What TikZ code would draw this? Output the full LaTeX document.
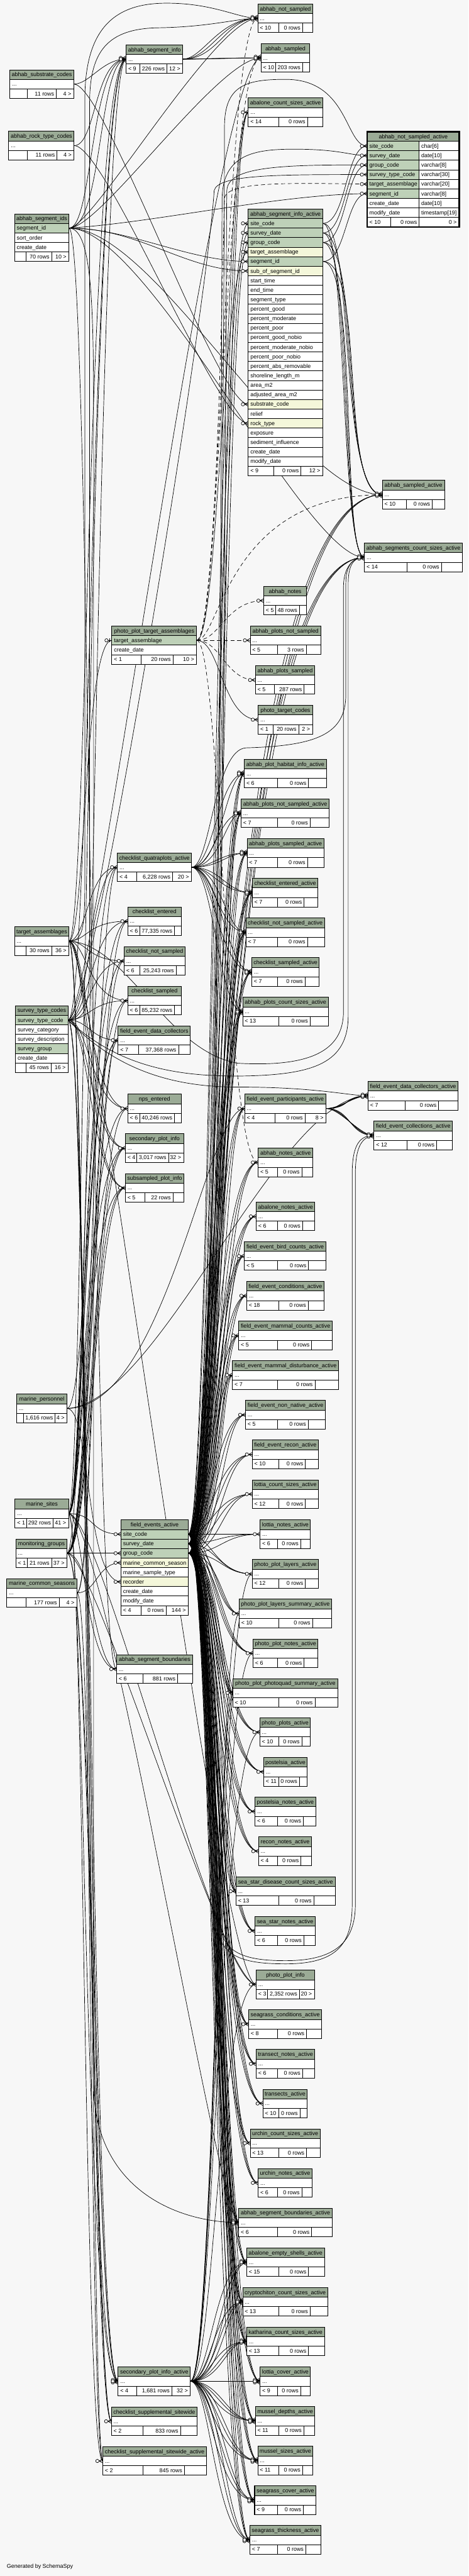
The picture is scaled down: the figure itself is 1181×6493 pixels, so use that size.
\documentclass[tikz,border=0pt]{standalone}
\usepackage{fontspec}
\setmainfont{Liberation Sans}
\usetikzlibrary{calc}
\pgfdeclarelayer{edgel}
\pgfsetlayers{edgel,main}
\definecolor{bg}{HTML}{F7F7F7}
\definecolor{hdr}{HTML}{9BAB96}
\definecolor{pk}{HTML}{BED1B8}
\definecolor{fkc}{HTML}{F4F7DA}
\newcommand\fsz{\fontsize{7.1}{8.5}\selectfont}
\def\getxyz#1,#2,#3\relax{\def\tx{#1}\def\tX{#2}\def\ty{#3}}
\def\getdd#1,#2\relax{\def\da{#1}\def\db{#2}}
\tikzset{
  fk/.style={draw=black, line width=0.55pt},
  imp/.style={fk, dash pattern=on 5pt off 3.5pt},
  cell/.style={draw=black, line width=0.6pt},
  tt/.style={anchor=base, inner sep=0pt, font=\fsz},
  tl/.style={anchor=base west, inner sep=0pt, font=\fsz},
  tr/.style={anchor=base east, inner sep=0pt, font=\fsz},
}
% simple table: name, {x1,x2,y}, title, {d1,d2}, left, mid, right
\newcommand\stbl[7]{%
  \getxyz#2\relax\getdd#4\relax
  \pgfmathsetmacro\tbw{(\tX-\tx)*0.5}%
  \node[name=#1, anchor=north west, inner sep=0pt, outer sep=0pt, minimum width=\tbw pt, minimum height=36pt, fill=white] at (\tx,\ty) {};
  \fill[hdr] (\tx,\ty) rectangle (\tX,\ty+24);
  \node[tt] at ({(\tx+\tX)/2},\ty+17) {#3};
  \node[tl] at (\tx+5,\ty+41) {...};
  \draw[cell] (\tx,\ty+24) -- (\tX,\ty+24) (\tx,\ty+48) -- (\tX,\ty+48) (\da,\ty+48) -- (\da,\ty+72) (\db,\ty+48) -- (\db,\ty+72);
  \node[tl] at (\tx+5,\ty+65) {#5};
  \node[tr] at (\db-5,\ty+65) {#6};
  \node[tr] at (\tX-6,\ty+65) {#7};
  \draw[cell, line width=0.8pt] (\tx,\ty) rectangle (\tX,\ty+72);
}
% long table: name, {x1,x2,y}, title, rows, {d1,d2}, left, mid, right
\newcommand\ltbl[8]{%
  \getxyz#2\relax\getdd#5\relax
  \foreach \rt/\rc [count=\ri] in {#4} {\xdef\nr{\ri}}%
  \pgfmathsetmacro\tbw{(\tX-\tx)*0.5}%
  \pgfmathsetmacro\tbh{(\nr+2)*12}%
  \pgfmathsetmacro\yf{\ty+24*(\nr+1)}%
  \pgfmathsetmacro\yb{\ty+24*(\nr+2)}%
  \node[name=#1, anchor=north west, inner sep=0pt, outer sep=0pt, minimum width=\tbw pt, minimum height=\tbh pt, fill=white] at (\tx,\ty) {};
  \fill[hdr] (\tx,\ty) rectangle (\tX,\ty+24);
  \node[tt] at ({(\tx+\tX)/2},\ty+17) {#3};
  \foreach \rt/\rc [count=\ri] in {#4} {
    \fill[\rc] (\tx,\ty+24*\ri) rectangle (\tX,\ty+24*\ri+24);
    \draw[cell] (\tx,\ty+24*\ri) -- (\tX,\ty+24*\ri);
    \node[tl] at (\tx+5,\ty+24*\ri+17) {\rt};
  }
  \draw[cell] (\tx,\yf) -- (\tX,\yf) (\da,\yf) -- (\da,\yb) (\db,\yf) -- (\db,\yb);
  \node[tl] at (\tx+5,\yf+17) {#6};
  \node[tr] at (\db-5,\yf+17) {#7};
  \node[tr] at (\tX-6,\yf+17) {#8};
  \draw[cell, line width=0.8pt] (\tx,\ty) rectangle (\tX,\yb);
}
\newcommand\mk[1]{%
  \draw[fk] ($(#1)+(-9,0)$) -- ($(#1)+(0,-5)$) ($(#1)+(-9,0)$) -- (#1) ($(#1)+(-9,0)$) -- ($(#1)+(0,5)$);
  \draw[fk, fill=bg] ($(#1)+(-13.5,0)$) circle[radius=2.1pt];
}
\newcommand\mkm[1]{%
  \coordinate (mtmpa) at ($(#1)+(0,-3)$); \mk{mtmpa}
  \coordinate (mtmpb) at ($(#1)+(0,3)$); \mk{mtmpb}
  \mk{#1}
}
\newcommand\mkb[1]{%
  \draw[fk] ($(#1)+(-9,0)$) -- (#1);
  \draw[fk, line width=0.9pt] ($(#1)+(-5,-5)$) -- ($(#1)+(-5,5)$);
  \draw[fk, fill=bg] ($(#1)+(-13.5,0)$) circle[radius=2.1pt];
}
\begin{document}
\begin{tikzpicture}[x=0.5pt,y=-0.5pt]
\begin{pgfonlayer}{edgel}
\fill[bg] (0,0) rectangle (1181,6493);
\end{pgfonlayer}
\useasboundingbox (0,0) rectangle (1181,6493);

% ---------- left column
\stbl{subc}{25,186,176}{abhab\_substrate\_codes}{69,142}{}{11 rows}{4 >}
\stbl{rockc}{22,187,331}{abhab\_rock\_type\_codes}{69,144}{}{11 rows}{4 >}
\ltbl{segids}{37,174,539}{abhab\_segment\_ids}{segment\_id/pk, sort\_order/white, create\_date/white}{65,130}{}{70 rows}{10 >}
\stbl{tass}{37,174,2336}{target\_assemblages}{65,130}{}{30 rows}{36 >}
\ltbl{stc}{39,172,2535}{survey\_type\_codes}{survey\_type\_code/pk, survey\_category/white, survey\_description/white, survey\_group/pk, create\_date/white}{65,129}{}{45 rows}{16 >}
\stbl{mpers}{42,169,3514}{marine\_personnel}{59,139}{}{1,616 rows}{4 >}
\stbl{msites}{38,173,3779}{marine\_sites}{67,134}{< 1}{292 rows}{41 >}
\stbl{mgroups}{40,169,3879}{monitoring\_groups}{69,130}{< 1}{21 rows}{37 >}
\stbl{mcs}{17,194,3979}{marine\_common\_seasons}{65,149}{}{177 rows}{4 >}

% ---------- middle column
\stbl{seginfo}{318,461,113}{abhab\_segment\_info}{352,421}{< 9}{226 rows}{12 >}
\ltbl{ppta}{282,496,1578}{photo\_plot\_target\_assemblages}{target\_assemblage/pk, create\_date/white}{355,436}{< 1}{20 rows}{10 >}
\stbl{cqa}{296,483,2150}{checklist\_quatraplots\_active}{345,435}{< 4}{6,228 rows}{20 >}
\stbl{chent}{322,457,2286}{checklist\_entered}{352,440}{< 6}{77,335 rows}{}
\stbl{chns}{313,467,2386}{checklist\_not\_sampled}{352,444}{< 6}{25,243 rows}{}
\stbl{chs}{322,457,2486}{checklist\_sampled}{352,440}{< 6}{85,232 rows}{}
\stbl{fedc}{298,480,2586}{field\_event\_data\_collectors}{350,450}{< 7}{37,368 rows}{}
\stbl{npse}{322,457,2758}{nps\_entered}{352,440}{< 6}{40,246 rows}{}
\stbl{spi}{316,463,2858}{secondary\_plot\_info}{345,425}{< 4}{3,017 rows}{32 >}
\stbl{sspi}{316,464,2958}{subsampled\_plot\_info}{365,436}{< 5}{22 rows}{}
\ltbl{fea}{305,475,3831}{field\_events\_active}{site\_code/pk, survey\_date/pk, group\_code/pk, marine\_common\_season/fkc, marine\_sample\_type/white, recorder/fkc, create\_date/white, modify\_date/white}{356,419}{< 4}{0 rows}{144 >}
\stbl{asb}{294,486,4171}{abhab\_segment\_boundaries}{361,448}{< 6}{881 rows}{}
\stbl{spia}{298,480,5966}{secondary\_plot\_info\_active}{345,433}{< 4}{1,681 rows}{32 >}
\stbl{css}{281,497,6067}{checklist\_supplemental\_sitewide}{361,455}{< 2}{833 rows}{}
\stbl{cssa}{259,521,6167}{checklist\_supplemental\_sitewide\_active}{361,465}{< 2}{845 rows}{}

% ---------- right column
\stbl{ans0}{650,789,10}{abhab\_not\_sampled}{703,763}{< 10}{0 rows}{}
\stbl{as0}{658,781,110}{abhab\_sampled}{695,763}{< 10}{203 rows}{}
\stbl{acsa}{626,814,247}{abalone\_count\_sizes\_active}{703,775}{< 14}{0 rows}{}
\ltbl{sia}{626,814,527}{abhab\_segment\_info\_active}{site\_code/pk, survey\_date/pk, group\_code/pk, target\_assemblage/fkc, segment\_id/pk, sub\_of\_segment\_id/fkc, start\_time/white, end\_time/white, segment\_type/white, percent\_good/white, percent\_moderate/white, percent\_poor/white, percent\_good\_nobio/white, percent\_moderate\_nobio/white, percent\_poor\_nobio/white, percent\_abs\_removable/white, shoreline\_length\_m/white, area\_m2/white, adjusted\_area\_m2/white, substrate\_code/fkc, relief/white, rock\_type/fkc, exposure/white, sediment\_influence/white, create\_date/white, modify\_date/white}{690,759}{< 9}{0 rows}{12 >}
\stbl{asa}{964,1121,1211}{abhab\_sampled\_active}{1025,1090}{< 10}{0 rows}{}
\stbl{scsa}{919,1166,1369}{abhab\_segments\_count\_sizes\_active}{1026,1113}{< 14}{0 rows}{}
\stbl{anotes}{665,773,1478}{abhab\_notes}{695,755}{< 5}{48 rows}{}
\stbl{apns}{631,809,1578}{abhab\_plots\_not\_sampled}{699,772}{< 5}{3 rows}{}
\stbl{aps}{644,794,1678}{abhab\_plots\_sampled}{691,767}{< 5}{287 rows}{}
\stbl{ptc}{651,788,1778}{photo\_target\_codes}{689,753}{< 1}{20 rows}{2 >}
\stbl{aphia}{616,823,1914}{abhab\_plot\_habitat\_info\_active}{699,778}{< 6}{0 rows}{}
\stbl{apnsa}{608,830,2014}{abhab\_plots\_not\_sampled\_active}{699,782}{< 7}{0 rows}{}
\stbl{apsa}{623,817,2114}{abhab\_plots\_sampled\_active}{699,775}{< 7}{0 rows}{}
\stbl{chea}{636,802,2214}{checklist\_entered\_active}{699,767}{< 7}{0 rows}{}
\stbl{chnsa}{620,818,2314}{checklist\_not\_sampled\_active}{699,775}{< 7}{0 rows}{}
\stbl{chsa}{635,805,2414}{checklist\_sampled\_active}{699,769}{< 7}{0 rows}{}
\stbl{apcsa}{612,828,2514}{abhab\_plots\_count\_sizes\_active}{703,782}{< 13}{0 rows}{}
\stbl{fedca}{928,1155,2726}{field\_event\_data\_collectors\_active}{1022,1106}{< 7}{0 rows}{}
\stbl{fepa}{617,822,2758}{field\_event\_participants\_active}{694,769}{< 4}{0 rows}{8 >}
\stbl{feca}{943,1141,2826}{field\_event\_collections\_active}{1026,1101}{< 12}{0 rows}{}
\stbl{anota}{651,789,2894}{abhab\_notes\_active}{699,761}{< 5}{0 rows}{}
\stbl{abna}{646,794,3030}{abalone\_notes\_active}{699,763}{< 6}{0 rows}{}
\stbl{febc}{616,822,3130}{field\_event\_bird\_counts\_active}{699,778}{< 5}{0 rows}{}
\stbl{fecond}{622,817,3230}{field\_event\_conditions\_active}{703,777}{< 18}{0 rows}{}
\stbl{femc}{602,838,3330}{field\_event\_mammal\_counts\_active}{699,786}{< 5}{0 rows}{}
\stbl{femd}{586,854,3430}{field\_event\_mammal\_disturbance\_active}{699,794}{< 7}{0 rows}{}
\stbl{fenn}{619,821,3530}{field\_event\_non\_native\_active}{699,777}{< 5}{0 rows}{}
\stbl{fer}{636,803,3630}{field\_event\_recon\_active}{703,770}{< 10}{0 rows}{}
\stbl{lcs}{636,803,3730}{lottia\_count\_sizes\_active}{703,770}{< 12}{0 rows}{}
\stbl{lna}{656,783,3831}{lottia\_notes\_active}{699,758}{< 6}{0 rows}{}
\stbl{ppla}{636,803,3931}{photo\_plot\_layers\_active}{703,770}{< 12}{0 rows}{}
\stbl{pplsa}{603,836,4031}{photo\_plot\_layers\_summary\_active}{703,788}{< 10}{0 rows}{}
\stbl{ppna}{638,802,4131}{photo\_plot\_notes\_active}{699,767}{< 6}{0 rows}{}
\stbl{pppsa}{587,852,4231}{photo\_plot\_photoquad\_summary\_active}{703,794}{< 10}{0 rows}{}
\stbl{ppa}{655,783,4330}{photo\_plots\_active}{703,761}{< 10}{0 rows}{}
\stbl{posa}{665,774,4430}{postelsia\_active}{703,755}{< 11}{0 rows}{}
\stbl{posna}{643,796,4530}{postelsia\_notes\_active}{699,765}{< 6}{0 rows}{}
\stbl{rna}{652,786,4630}{recon\_notes\_active}{699,759}{< 4}{0 rows}{}
\stbl{ssdcsa}{595,845,4731}{sea\_star\_disease\_count\_sizes\_active}{703,791}{< 13}{0 rows}{}
\stbl{ssna}{643,795,4831}{sea\_star\_notes\_active}{699,766}{< 6}{0 rows}{}
\stbl{ppi}{646,793,4966}{photo\_plot\_info}{675,755}{< 3}{2,352 rows}{20 >}
\stbl{sgca}{627,811,5066}{seagrass\_conditions\_active}{699,773}{< 8}{0 rows}{}
\stbl{tna}{646,794,5166}{transect\_notes\_active}{699,763}{< 6}{0 rows}{}
\stbl{tra}{663,775,5266}{transects\_active}{703,756}{< 10}{0 rows}{}
\stbl{ucsa}{631,807,5366}{urchin\_count\_sizes\_active}{703,773}{< 13}{0 rows}{}
\stbl{una}{651,787,5466}{urchin\_notes\_active}{699,761}{< 6}{0 rows}{}
\stbl{asba}{602,838,5566}{abhab\_segment\_boundaries\_active}{699,786}{< 6}{0 rows}{}
\stbl{aesa}{622,818,5666}{abalone\_empty\_shells\_active}{703,778}{< 15}{0 rows}{}
\stbl{ccsa}{612,826,5766}{cryptochiton\_count\_sizes\_active}{703,782}{< 13}{0 rows}{}
\stbl{kcsa}{622,818,5866}{katharina\_count\_sizes\_active}{703,778}{< 13}{0 rows}{}
\stbl{lca}{656,783,5966}{lottia\_cover\_active}{699,758}{< 9}{0 rows}{}
\stbl{mda}{644,794,6066}{mussel\_depths\_active}{703,766}{< 11}{0 rows}{}
\stbl{msa}{650,789,6166}{mussel\_sizes\_active}{703,763}{< 11}{0 rows}{}
\stbl{sgcva}{642,797,6266}{seagrass\_cover\_active}{699,765}{< 9}{0 rows}{}
\stbl{sgta}{630,809,6366}{seagrass\_thickness\_active}{699,771}{< 7}{0 rows}{}

% ---------- focus table
\node[name=ansa, anchor=north west, inner sep=0pt, outer sep=0pt, minimum width=116pt, minimum height=120pt, fill=white] at (926,332) {};
\fill[hdr] (926,332) rectangle (1158,356);
\node[tt] at (1042,349) {abhab\_not\_sampled\_active};
\foreach \rt/\ru/\rc [count=\ri] in {site\_code/{char[6]}/pk, survey\_date/{date[10]}/pk, group\_code/{varchar[8]}/pk, survey\_type\_code/{varchar[30]}/pk, target\_assemblage/{varchar[20]}/pk, segment\_id/{varchar[8]}/pk, create\_date/{date[10]}/white, modify\_date/{timestamp[19]}/white} {
  \fill[\rc] (926,332+24*\ri) rectangle (1057,356+24*\ri);
  \draw[cell] (926,332+24*\ri) -- (1158,332+24*\ri);
  \node[tl] at (931,349+24*\ri) {\rt};
  \node[tl] at (1062,349+24*\ri) {\ru};
}
\draw[cell] (926,548) -- (1158,548) (1057,356) -- (1057,572) (985,548) -- (985,572);
\node[tl] at (931,565) {< 10};
\node[tr] at (1052,565) {0 rows};
\node[tr] at (1152,565) {0 >};
\draw[line width=2pt] (926,332) rectangle (1158,572);

\node[tl, name=gen] at (17,6473) {Generated by SchemaSpy};

% ---------- anchor coordinates
\coordinate (segids-o) at (174,575);
\coordinate (stc-o) at (172,2571);
\coordinate (ppta-o) at (496,1614);
\coordinate (ppta-i) at (282,1614);
\coordinate (fea-s) at (475,3867);
\coordinate (fea-d) at (475,3891);
\coordinate (fea-g) at (475,3915);
\coordinate (fea-is) at (305,3867);
\coordinate (fea-ig) at (305,3915);
\coordinate (fea-im) at (305,3939);
\coordinate (fea-ir) at (305,3987);
\coordinate (sia-is) at (626,563);
\coordinate (sia-id) at (626,587);
\coordinate (sia-ig) at (626,611);
\coordinate (sia-ita) at (626,635);
\coordinate (sia-iseg) at (626,659);
\coordinate (sia-isub) at (626,683);
\coordinate (sia-isc) at (626,1019);
\coordinate (sia-irk) at (626,1067);
\coordinate (sia-os) at (814,563);
\coordinate (sia-od) at (814,587);
\coordinate (sia-og) at (814,611);
\coordinate (sia-oseg) at (814,659);
\coordinate (ansa-s) at (926,368);
\coordinate (ansa-d) at (926,392);
\coordinate (ansa-g) at (926,416);
\coordinate (ansa-t) at (926,440);
\coordinate (ansa-ta) at (926,464);
\coordinate (ansa-seg) at (926,488);
\coordinate (chL1) at (212,0);
\coordinate (chL2) at (221,0);
\coordinate (chL3) at (230,0);
\coordinate (chL4) at (240,0);
\coordinate (chR1) at (542,0);
\coordinate (chR2) at (551,0);
\coordinate (chR3) at (560,0);
\coordinate (chR4) at (569,0);

% ---------- connectors
\begin{pgfonlayer}{edgel}
% into abhab_segment_info
\foreach \p/\a/\b in {subc.east/40/60, rockc.east/55/80, segids-o/60/90, segids-o/85/70, tass.east/45/95, stc-o/55/85, msites.east/40/100, mgroups.east/62/78}
  \draw[fk] (\p) .. controls +(\a,0) and +(-\b,0) .. (seginfo.west);
% left parents to middle tables
\foreach \q in {cqa,chent,chns,chs,npse,spi,sspi,spia,css,cssa}
  \draw[fk] (tass.east) .. controls +(45,0) and (\q.west -| chL2) .. (\q.west);
\foreach \q in {cqa,chent,chns,chs,fedc,npse,spi,sspi,spia,css,cssa}
  \draw[fk] (stc-o) .. controls +(52,0) and (\q.west -| chL3) .. (\q.west);
\foreach \q in {cqa,chent,chns,chs,fedc,npse,spi,sspi,asb,spia,cssa}
  \draw[fk] (msites.east) .. controls +(38,0) and (\q.west -| chL1) .. (\q.west);
\foreach \q in {cqa,chent,chns,chs,fedc,npse,spi,sspi,asb,spia,css}
  \draw[fk] (mgroups.east) .. controls +(62,0) and (\q.west -| chL4) .. (\q.west);
\foreach \q in {spi,sspi,spia}
  \draw[fk] (mcs.east) .. controls +(40,0) and (\q.west -| chL2) .. (\q.west);
\draw[fk] (segids-o) .. controls +(55,0) and (asb.west -| chL3) .. (asb.west);
\draw[fk] (mpers.east) .. controls +(50,0) and (fedc.west -| chL2) .. (fedc.west);
\draw[fk] (tass.east) .. controls +(40,0) and (ppta-i -| chL1) .. (ppta-i);
% into field_events_active
\draw[fk] (msites.east) .. controls +(70,0) and +(-80,0) .. (fea-is);
\draw[fk] (mgroups.east) .. controls +(60,0) and +(-60,0) .. (fea-ig);
\draw[fk] (mcs.east) .. controls +(50,0) and +(-60,0) .. (fea-im);
\draw[fk] (mpers.east) .. controls +(60,0) and +(-90,0) .. (fea-ir);
% left parents to right tables
\draw[fk] (subc.east) .. controls +(80,0) and +(-80,0) .. (sia-isc);
\draw[fk] (rockc.east) .. controls +(80,0) and +(-80,0) .. (sia-irk);
\draw[fk] (segids-o) .. controls +(150,0) and +(-150,0) .. (sia-iseg);
\draw[fk] (segids-o) .. controls +(180,0) and +(-160,0) .. (sia-isub);
\draw[fk] (segids-o) .. controls (400,560) and (700,490) .. (ansa-seg);
\draw[fk] (segids-o) .. controls +(60,0) and (ans0.west -| chR1) .. (ans0.west);
\draw[fk] (segids-o) .. controls +(80,0) and (as0.west -| chR2) .. (as0.west);
\draw[fk] (segids-o) .. controls +(220,0) and +(-220,0) .. (asa.west);
\draw[fk] (segids-o) .. controls +(200,0) and +(-150,0) .. (scsa.west);
\draw[fk] (segids-o) .. controls +(62,0) and (236,800) .. (236,1100) -- (236,5250) .. controls (236,5520) and (450,5602) .. (asba.west);
\draw[fk] (tass.east) .. controls +(60,0) and (ppi.west -| chR2) .. (ppi.west);
\draw[fk] (msites.east) .. controls +(80,0) and (ppi.west -| chR1) .. (ppi.west);
\draw[fk] (mgroups.east) .. controls +(70,0) and (ppi.west -| chR3) .. (ppi.west);
\draw[fk] (msites.east) .. controls +(90,0) and (asba.west -| chR2) .. (asba.west);
\draw[fk] (mpers.east) .. controls (420,3550) and (520,2794) .. (fepa.west);
\draw[fk] (mpers.east) .. controls (400,3540) and (700,2762) .. (fedca.west);
\draw[fk] (stc-o) .. controls +(60,0) and (as0.west -| chR1) .. (as0.west);
% routed long connectors
\draw[fk] (tass.east) .. controls +(40,0) and (214,2330) .. (214,2180) -- (214,250) .. controls (214,60) and (300,8) .. (420,8) .. controls (540,8) and (600,46) .. (ans0.west);
\draw[fk] (stc-o) .. controls +(50,0) and (226,2530) .. (226,2380) -- (226,260) .. controls (226,130) and (270,72) .. (400,70) .. controls (530,68) and (600,46) .. (ans0.west);
\draw[fk] (stc-o) .. controls +(60,0) and (520,800) .. (540,480) .. controls (550,440) and (700,440) .. (ansa-t);
\draw[fk] (stc-o) .. controls (300,2705) and (450,2740) .. (600,2740) .. controls (800,2740) and (880,2762) .. (fedca.west);
\draw[fk] (stc-o) .. controls (300,2690) and (450,2715) .. (620,2712) .. controls (790,2708) and (878,2680) .. (878,2560) -- (878,1470) .. controls (878,1420) and (895,1404) .. (scsa.west);
\draw[fk] (tass.east) .. controls (320,2380) and (420,2650) .. (600,2680) .. controls (780,2690) and (866,2650) .. (866,2550) -- (866,1480) .. controls (866,1430) and (890,1404) .. (scsa.west);
\draw[fk] (cqa.east) .. controls (530,2186) and (540,1890) .. (620,1885) .. controls (800,1880) and (872,1850) .. (872,1750) -- (872,1470) .. controls (872,1425) and (890,1404) .. (scsa.west);
\draw[fk] (fea-s) .. controls +(75,0) and (566,700) .. (566,320) .. controls (566,215) and (620,200) .. (720,200) .. controls (880,200) and (870,368) .. (ansa-s);
\draw[fk] (fea-d) .. controls +(85,0) and (558,760) .. (560,500) .. controls (562,390) and (640,376) .. (740,376) .. controls (860,376) and (880,392) .. (ansa-d);
\draw[fk] (fea-g) .. controls +(95,0) and (568,700) .. (572,480) .. controls (575,425) and (680,414) .. (ansa-g);
\draw[imp] (ppta-o) .. controls +(50,0) and (562,640) .. (566,500) .. controls (570,455) and (750,462) .. (ansa-ta);
\draw[fk] (fea-s) .. controls +(70,0) and (545,4700) .. (548,4850) .. controls (552,4935) and (620,4950) .. (720,4950) .. controls (850,4950) and (888,4900) .. (888,4800) -- (888,2960) .. controls (888,2880) and (910,2862) .. (feca.west);
\draw[fk] (fea-d) .. controls +(80,0) and (552,4700) .. (556,4850) .. controls (560,4928) and (630,4942) .. (720,4942) .. controls (845,4942) and (896,4895) .. (896,4800) -- (896,2960) .. controls (896,2885) and (915,2866) .. (feca.west);
% abhab_segment_info fan
\foreach \k/\cx in {50/chR2,70/chR3,90/chR4} {
  \foreach \q in {ans0,as0} {
    \draw[fk] (seginfo.east) .. controls +(\k,0) and (\q.west -| \cx) .. (\q.west);
  }
}
% photo_plot_target_assemblages fan
\foreach \q in {ans0,as0,asa,anotes,apns,aps,anota}
  \draw[imp] (ppta-o) .. controls +(60,0) and (\q.west -| chR4) .. (\q.west);
\draw[fk] (ppta-o) .. controls +(60,0) and (ptc.west -| chR3) .. (ptc.west);
\draw[fk] (ppta-o) .. controls +(55,0) and (sia-ita -| chR3) .. (sia-ita);
% checklist_quatraplots_active fan
\foreach \k/\cx in {55/chR2,75/chR4} {
  \foreach \q in {aphia,apnsa,apsa,chea,chnsa,chsa,apcsa} {
    \draw[fk] (cqa.east) .. controls +(\k,0) and (\q.west -| \cx) .. (\q.west);
  }
}
% field_events_active fan
\foreach \s/\k/\cx in {fea-s/58/chR1,fea-d/70/chR2,fea-g/82/chR3} {
  \foreach \q in {acsa,asa,scsa,aphia,apnsa,apsa,chea,chnsa,chsa,apcsa,fepa,anota,abna,febc,fecond,femc,femd,fenn,fer,lcs,lna,ppla,pplsa,ppna,pppsa,ppa,posa,posna,rna,ssdcsa,ssna,sgca,tna,tra,ucsa,una,asba,aesa,ccsa,kcsa,lca,mda,msa,sgcva,sgta} {
    \draw[fk] (\s) .. controls +(\k,0) and (\q.west -| \cx) .. (\q.west);
  }
}
\draw[fk] (fea-s) .. controls +(60,0) and (sia-is -| chR1) .. (sia-is);
\draw[fk] (fea-d) .. controls +(70,0) and (sia-id -| chR2) .. (sia-id);
\draw[fk] (fea-g) .. controls +(80,0) and (sia-ig -| chR3) .. (sia-ig);
% secondary_plot_info_active fan
\foreach \k/\cx in {50/chR1,65/chR3,80/chR4} {
  \foreach \q in {aesa,ccsa,kcsa,lca,mda,msa,sgcva,sgta} {
    \draw[fk] (spia.east) .. controls +(\k,0) and (\q.west -| \cx) .. (\q.west);
  }
}
\foreach \q in {ppa,ppla,pplsa,ppna,pppsa,ppi}
  \draw[fk] (spia.east) .. controls +(60,0) and (\q.west -| chR2) .. (\q.west);
% abhab_segment_info_active to its children
\foreach \a/\b in {sia-os/ansa-s, sia-od/ansa-d, sia-og/ansa-g, sia-oseg/ansa-seg}
  \draw[fk] (\a) .. controls +(60,0) and +(-55,0) .. (\b);
\foreach \a/\k in {sia-os/80, sia-od/90, sia-og/100, sia-oseg/110} {
  \draw[fk] (\a) .. controls +(\k,0) and +(-110,0) .. (asa.west);
  \draw[fk] (\a) .. controls +(\k-20,0) and +(-60,0) .. (scsa.west);
}
% field_event_participants_active to its children
\foreach \k in {35,45,55,65} {
  \draw[fk] (fepa.east) .. controls +(\k,0) and +(-\k,0) .. (fedca.west);
  \draw[fk] (fepa.east) .. controls +(\k,0) and +(-\k,0) .. (feca.west);
}
\end{pgfonlayer}

% ---------- end markers
\mkb{ppta-i}
\foreach \q in {cqa.west, chent.west, chns.west, chs.west, fedc.west, npse.west, spi.west, sspi.west, fea-is, fea-ig, fea-im, fea-ir, asb.west, css.west, cssa.west, acsa.west, ansa-s, ansa-d, ansa-g, ansa-t, ansa-ta, ansa-seg, sia-is, sia-id, sia-ig, sia-ita, sia-iseg, sia-isub, sia-isc, sia-irk, anotes.west, apns.west, aps.west, ptc.west, fepa.west, anota.west, abna.west, febc.west, fecond.west, femc.west, femd.west, fenn.west, fer.west, lcs.west, lna.west, ppla.west, pplsa.west, ppna.west, pppsa.west, ppa.west, posa.west, posna.west, rna.west, ssdcsa.west, ssna.west, ppi.west, sgca.west, tna.west, tra.west, ucsa.west, una.west}
  {\mk{\q}}
\foreach \q in {seginfo.west, ans0.west, as0.west, asa.west, scsa.west, aphia.west, apnsa.west, apsa.west, chea.west, chnsa.west, chsa.west, apcsa.west, fedca.west, feca.west, asba.west, aesa.west, ccsa.west, kcsa.west, lca.west, mda.west, msa.west, sgcva.west, sgta.west, spia.west}
  {\mkm{\q}}
\end{tikzpicture}
\end{document}
